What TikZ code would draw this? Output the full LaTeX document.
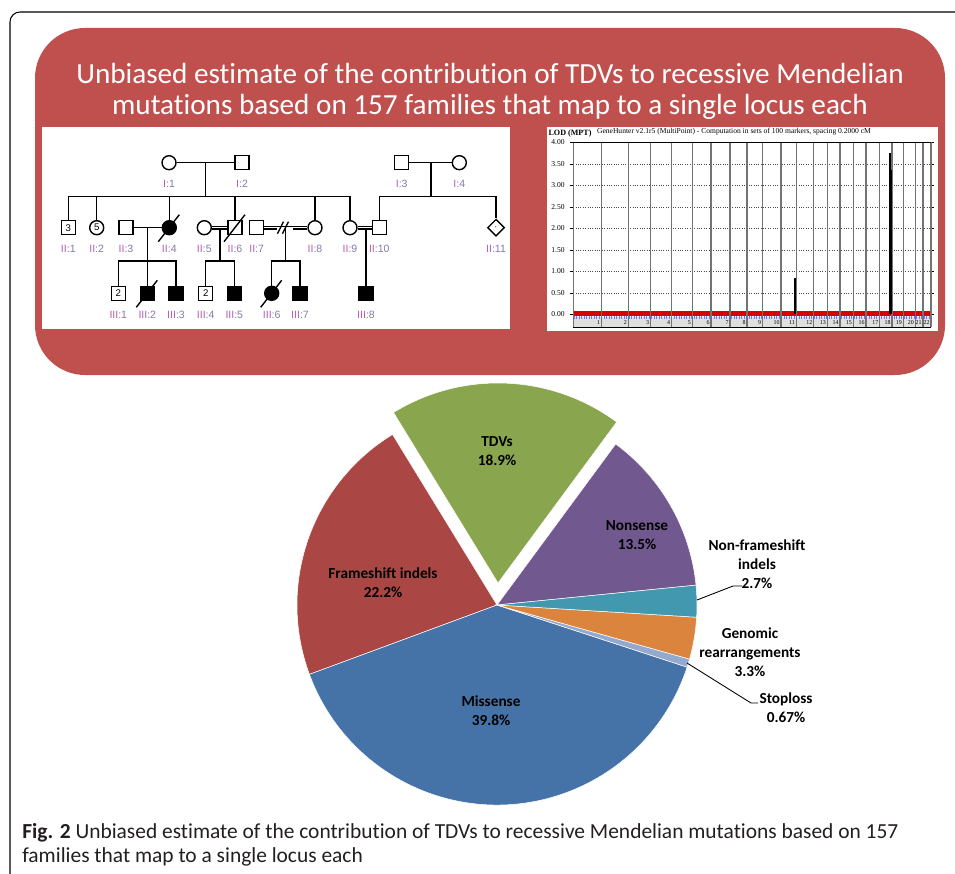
\documentclass[tikz,border=0pt]{standalone}
\usepackage{fontspec}
\usepackage{tikz}
\usetikzlibrary{shapes.geometric}

\newfontfamily\carlito[Ligatures=NoCommon]{Carlito}
\newfontfamily\pedfont{Liberation Sans}
\newfontfamily\lodfont{Liberation Serif}

\definecolor{boxred}{HTML}{C0504D}
\definecolor{pieblue}{HTML}{4572A7}
\definecolor{piered}{HTML}{AA4643}
\definecolor{piegreen}{HTML}{89A54E}
\definecolor{piepurple}{HTML}{71588F}
\definecolor{pieteal}{HTML}{4198AF}
\definecolor{pieorange}{HTML}{DB843D}
\definecolor{pielight}{HTML}{93A9CF}
\definecolor{genpink}{HTML}{B860B0}
\definecolor{idgray}{HTML}{8878A8}
\definecolor{captext}{HTML}{231F20}

% pedigree id as in the figure, generation and number in two tints
\newcommand{\pid}[2]{\textcolor{genpink}{#1}\textcolor{idgray}{:#2}}

\tikzset{
  male/.style={draw, rectangle, minimum size=0.28cm, inner sep=0pt, line width=0.8pt,
    fill=white, font=\pedfont\fontsize{5.5}{5.5}\selectfont},
  female/.style={male, circle},
  unknown/.style={male, diamond, minimum size=0.34cm, aspect=1},
  affected/.style={fill=black},
  pidlab/.style={font=\pedfont\fontsize{6}{6}\selectfont, inner sep=0pt},
  pedline/.style={line width=0.75pt},
  consang/.style={double, double distance=0.9pt, line width=0.6pt},
  lodtxt/.style={font=\lodfont\fontsize{4.3}{5}\selectfont, inner sep=0pt},
  chrnum/.style={font=\lodfont\fontsize{3.4}{4}\selectfont, inner sep=0.3pt},
  slicelab/.style={font=\carlito\bfseries\fontsize{8.7}{10.8}\selectfont, align=center, inner sep=0pt},
  capfont/.style={font=\carlito\fontsize{12.2}{13.6}\selectfont, text=captext, inner sep=0pt}
}

\begin{document}
\begin{tikzpicture}[x=0.02cm, y=-0.02cm]
  \useasboundingbox (0,0) rectangle (955,874);

  % outer frame
  \draw[line width=0.6pt, rounded corners=0.2cm] (10,874) -- (10,12) -- (955,12);

  % title box
  \fill[boxred, rounded corners=1cm] (35,28) rectangle (945,375);
  \node[font=\carlito\fontsize{16.6}{17.6}\selectfont, text=white, align=center] (title)
    at (490,91) {Unbiased estimate of the contribution of TDVs to recessive Mendelian\\
    mutations based on 157 families that map to a single locus each};

  % ---------------- pedigree ----------------
  \fill[white] (42,127) rectangle (510,329);

  \node[female] (i1) at (169,162.7) {};
  \node[male]   (i2) at (242,162.7) {};
  \node[male]   (i3) at (401.7,162.7) {};
  \node[female] (i4) at (459.3,162.7) {};

  \node[male]             (ii1)  at (68.3,227.7)  {3};
  \node[female]           (ii2)  at (96.7,227.7)  {5};
  \node[male]             (ii3)  at (126,227.7)   {};
  \node[female, affected] (ii4)  at (169.3,227.7) {};
  \node[female]           (ii5)  at (204.3,227.7) {};
  \node[male]             (ii6)  at (235,227.7)   {};
  \node[male]             (ii7)  at (256.7,227.7) {};
  \node[female]           (ii8)  at (315,227.7)   {};
  \node[female]           (ii9)  at (350,227.7)   {};
  \node[male]             (ii10) at (379.3,227.7) {};
  \node[unknown]          (ii11) at (496,227.7)   {$\cdot$};

  \node[male]             (iii1) at (118.3,293.3) {2};
  \node[male, affected]   (iii2) at (147.3,293.3) {};
  \node[male, affected]   (iii3) at (176,293.3)   {};
  \node[male]             (iii4) at (205.7,293.3) {2};
  \node[male, affected]   (iii5) at (234.3,293.3) {};
  \node[female, affected] (iii6) at (271.7,293.3) {};
  \node[male, affected]   (iii7) at (300,293.3)   {};
  \node[male, affected]   (iii8) at (366,293.3)   {};

  % ids
  \foreach \n/\g/\k in {i1/I/1, i2/I/2, i3/I/3, i4/I/4,
      ii1/II/1, ii2/II/2, ii3/II/3, ii4/II/4, ii5/II/5, ii6/II/6, ii7/II/7,
      ii8/II/8, ii9/II/9, ii10/II/10, ii11/II/11,
      iii1/III/1, iii2/III/2, iii3/III/3, iii4/III/4, iii5/III/5, iii6/III/6,
      iii7/III/7, iii8/III/8}
    \node[pidlab] (\n-id) at ([yshift=-0.43cm]\n.center) {\pid{\g}{\k}};

  % unions and sibships
  \coordinate (m1) at (205.7,162.7);
  \coordinate (s1) at (205.7,196.7);
  \coordinate (m2) at (147.3,227.7);
  \coordinate (s2) at (147.3,261);
  \coordinate (m3) at (220,227.7);
  \coordinate (s3) at (220,261);
  \coordinate (brk) at (285.5,227.7);
  \coordinate (s4) at (285.5,261);
  \coordinate (m5) at (366,227.7);
  \coordinate (m4) at (431,162.7);
  \coordinate (s5) at (431,196.7);

  \draw[pedline] (i1) -- (i2);
  \draw[pedline] (m1) -- (s1);
  \draw[pedline] (ii1) |- (s1) -| (ii9);
  \foreach \c in {ii2, ii4, ii6, ii8}
    \draw[pedline] (\c) -- (\c |- s1);

  \draw[pedline] (ii3) -- (ii4);
  \draw[pedline] (m2) -- (iii2);
  \draw[pedline] (iii1) |- (s2) -| (iii3);

  \draw[consang] (ii5) -- (ii6);
  \draw[pedline] (m3) -- (s3);
  \draw[pedline] (iii4) |- (s3) -| (iii5);

  \draw[consang] (ii7) -- (ii8);
  \fill[white] ([xshift=-5]brk) rectangle ([xshift=4, yshift=-3]brk);
  \draw[pedline] ([shift={(-8,6)}]brk) -- ([shift={(-2,-6)}]brk);
  \draw[pedline] ([shift={(-3,6)}]brk) -- ([shift={(3,-6)}]brk);
  \draw[pedline] (brk) -- (s4);
  \draw[pedline] (iii6) |- (s4) -| (iii7);

  \draw[consang] (ii9) -- (ii10);
  \draw[pedline] (m5) -- (iii8);

  \draw[pedline] (i3) -- (i4);
  \draw[pedline] (m4) -- (s5);
  \draw[pedline] (ii10) |- (s5) -| (ii11);

  % deceased
  \foreach \c in {ii4, ii6, iii2, iii6}
    \draw[line width=0.8pt] ([shift={(-11,14)}]\c.center) -- ([shift={(10,-13)}]\c.center);

  % ---------------- LOD plot ----------------
  \fill[white] (547,127) rectangle (938,331);
  \node[lodtxt, font=\lodfont\bfseries\fontsize{4.6}{5}\selectfont] (lodt) at (570,134) {LOD (MPT)};
  \node[lodtxt] (lodh) at (734,131.5)
    {GeneHunter v2.1r5 (MultiPoint) - Computation in sets of 100 markers, spacing 0.2000 cM};

  \foreach \k/\t in {0/0.00, 1/0.50, 2/1.00, 3/1.50, 4/2.00, 5/2.50, 6/3.00, 7/3.50, 8/4.00} {
    \node[lodtxt] (tick\k) at (558,{314.5-21.5*\k}) {\t};
    \draw[line width=0.3pt] (570,{314.5-21.5*\k}) -- (573.3,{314.5-21.5*\k});
    \draw[line width=0.3pt] (931,{314.5-21.5*\k}) -- (934,{314.5-21.5*\k});
  }
  \foreach \k in {1,...,7}
    \draw[densely dotted, line width=0.35pt, black!70] (573.3,{314.5-21.5*\k}) -- (931,{314.5-21.5*\k});

  \fill[gray!25] (573.3,317) rectangle (931,327);
  \foreach \tx in {574,576.5,...,930}
    \draw[blue!55, line width=0.2pt] (\tx,316.5) -- (\tx,319.5);
  \fill[red!85!black] (573.3,311.5) rectangle (931,316.5);

  \foreach \bx in {573.3,601.7,628.3,650.7,671.7,692.3,711,730,747,762.5,781,796.3,
      813.7,827.3,840,853.3,866,879.7,892,903.3,915.3,923,931}
    \draw[black!55, line width=0.75pt] (\bx,142.5) -- (\bx,327);
  \draw[line width=0.35pt] (573.3,142.5) -- (931,142.5);
  \draw[line width=0.35pt] (573.3,327) -- (931,327);

  \foreach \bx/\n in {601.7/1,628.3/2,650.7/3,671.7/4,692.3/5,711/6,730/7,747/8,762.5/9,
      781/10,796.3/11,813.7/12,827.3/13,840/14,853.3/15,866/16,879.7/17,892/18,
      903.3/19,915.3/20,923/21,931/22}
    \node[chrnum, anchor=east] (chr\n) at (\bx-0.6,323) {\n};

  % linkage peaks
  \draw[line width=0.7pt] (795,314) -- (795,277.7);
  \fill (888.8,314) rectangle (891.6,170);
  \draw[line width=0.6pt] (890,170) -- (890,153);

  % ---------------- pie chart ----------------
  \begin{scope}[shift={(497,605)}, x=0.02cm, y=0.02cm]
    \foreach \a/\b/\c in {5.7/53.6/piepurple, 121.5/200.3/piered, 200.3/341.9/pieblue,
        341.9/344.3/pielight, 344.3/356.5/pieorange, 356.5/365.7/pieteal}
      \filldraw[fill=\c, draw=white, line width=0.3pt] (0,0) -- (\a:200)
        arc[start angle=\a, end angle=\b, radius=200] -- cycle;
    \filldraw[fill=piegreen, draw=white, line width=0.3pt, shift={(1,22)}] (0,0) -- (53.6:200)
      arc[start angle=53.6, end angle=121.5, radius=200] -- cycle;
  \end{scope}

  \node[slicelab] (tdv)   at (497,451.5) {TDVs\\18.9\%};
  \node[slicelab] (nons)  at (637,535.5) {Nonsense\\13.5\%};
  \node[slicelab] (fsi)   at (383,582.5) {Frameshift indels\\22.2\%};
  \node[slicelab] (miss)  at (491,711)   {Missense\\39.8\%};
  \node[slicelab] (nfsi)  at (757,564)   {Non-frameshift\\indels\\2.7\%};
  \node[slicelab] (genr)  at (750,652)   {Genomic\\rearrangements\\3.3\%};
  \node[slicelab] (stopl) at (786,708)   {Stoploss\\0.67\%};

  \coordinate (nfsi-pt) at (697,600);
  \coordinate (nfsi-end) at (742,586);
  \coordinate (stopl-pt) at (687,663);
  \coordinate (stopl-end) at (758,703);
  \draw[line width=0.5pt] (nfsi-pt) -- (733,586) -- (nfsi-end);
  \draw[line width=0.5pt] (stopl-pt) -- (751,703) -- (stopl-end);

  % ---------------- caption ----------------
  \node[capfont, anchor=west] (cap1) at (22,833) {\textbf{Fig. 2} Unbiased estimate of the
    contribution of TDVs to recessive Mendelian mutations based on 157};
  \node[capfont, anchor=west] (cap2) at (22,857) {families that map to a single locus each};
\end{tikzpicture}
\end{document}
